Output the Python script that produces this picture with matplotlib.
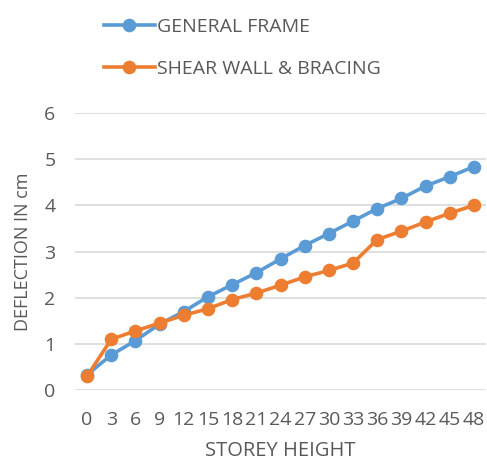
import matplotlib
matplotlib.use("Agg")
import matplotlib.pyplot as plt

# data
storey = ["0", "3", "6", "9", "12", "15", "18", "21", "24", "27",
          "30", "33", "36", "39", "42", "45", "48"]
general_frame = [0.33, 0.76, 1.07, 1.43, 1.70, 2.02, 2.28, 2.54, 2.84,
                 3.13, 3.39, 3.66, 3.93, 4.15, 4.42, 4.62, 4.84]
shear_wall = [0.30, 1.10, 1.28, 1.45, 1.62, 1.76, 1.96, 2.10, 2.27,
              2.45, 2.59, 2.75, 3.26, 3.44, 3.64, 3.83, 4.00]

BLUE = "#5B9BD5"
ORANGE = "#ED7D31"
GRID = "#D9D9D9"
TEXT = "#595959"

plt.rcParams["font.family"] = ["Open Sans", "DejaVu Sans"]

fig = plt.figure(figsize=(4.87, 4.66), dpi=100)
ax = fig.add_axes([0.154, 0.163, 0.844, 0.5945])

x = list(range(len(storey)))
l1, = ax.plot(x, general_frame, color=BLUE, lw=2.6, marker="o", ms=8.8,
              label="GENERAL FRAME", zorder=3)
l2, = ax.plot(x, shear_wall, color=ORANGE, lw=2.6, marker="o", ms=8.8,
              label="SHEAR WALL & BRACING", zorder=4)

ax.set_xlim(-0.5, len(storey) - 0.5)
ax.set_ylim(0, 6)
ax.set_yticks(range(0, 7))
ax.set_xticks(x)
ax.set_xticklabels(storey)
ax.yaxis.grid(True, color=GRID, lw=1.2)
ax.set_axisbelow(True)
for s in ax.spines.values():
    s.set_visible(False)
ax.tick_params(length=0, labelsize=14, colors=TEXT)
ax.tick_params(axis="x", pad=15)
ax.tick_params(axis="y", pad=14)

ax.set_xlabel("STOREY HEIGHT", fontsize=14.5, color=TEXT, labelpad=9)
ax.set_ylabel("DEFLECTION IN cm", fontsize=13, color=TEXT, labelpad=9)

fig.legend(handles=[l1, l2], loc="upper left",
           bbox_to_anchor=(0.186, 0.99), frameon=False,
           fontsize=14, labelcolor=TEXT, handlelength=2.6,
           handletextpad=0.1, labelspacing=1.2, borderaxespad=0.3)

fig.savefig("out.png", dpi=100)
